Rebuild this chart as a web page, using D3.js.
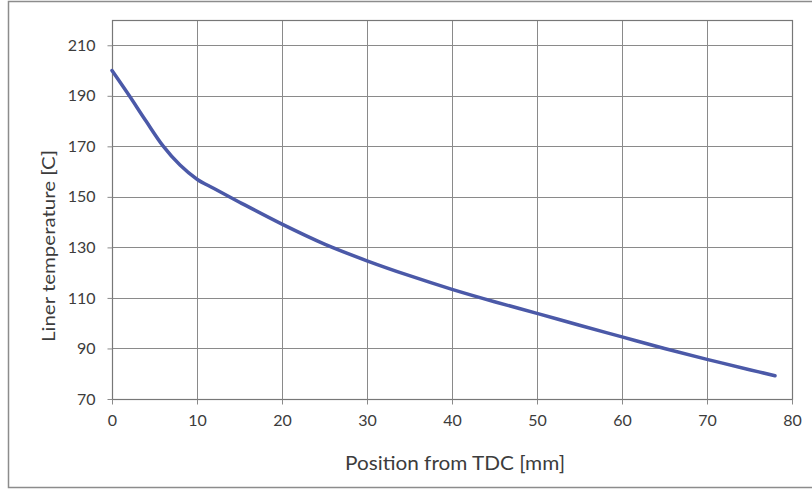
<!DOCTYPE html>
<html>
<head>
<meta charset="utf-8">
<script src="https://cdn.jsdelivr.net/npm/d3@7"></script>
<style>
  html, body { margin: 0; padding: 0; background: #fff; }
  svg { display: block; }
  text { font-family: Lato, "Open Sans", sans-serif; fill: #3c3c3c; }
</style>
</head>
<body>
<svg id="chart" width="812" height="490"></svg>
<script>
// Liner temperature along the stroke, measured from top dead centre
const positionMm = [0, 2, 4, 6, 8, 10, 12, 15, 20, 25, 30, 35, 40, 45, 50, 55, 60, 65, 70, 75, 78];
const linerTempC = [200, 190.2, 180, 170.2, 162.6, 157.0, 153.3, 147.9, 139.2, 131.3, 124.7, 118.8, 113.4, 108.5, 103.9, 99.2, 94.6, 90.0, 85.7, 81.6, 79.2];
const xTicks = [0, 10, 20, 30, 40, 50, 60, 70, 80];
const yTicks = [70, 90, 110, 130, 150, 170, 190, 210];
const xTitle = "Position from TDC [mm]";
const yTitle = "Liner temperature [C]";

const svg = d3.select("#chart");
const plot = { left: 112, right: 792, top: 20, bottom: 399 };

const x = d3.scaleLinear().domain([0, 80]).range([plot.left, plot.right]);
const y = d3.scaleLinear().domain([70, 220]).range([plot.bottom, plot.top]);

// outer chart frame
svg.append("rect")
  .attr("x", 8.5).attr("y", 1.5).attr("width", 820).attr("height", 486)
  .attr("fill", "none").attr("stroke", "#8c8c8c").attr("stroke-width", 1.5);

// gridlines
const grid = svg.append("g").attr("stroke", "#8a8a8a").attr("stroke-width", 1);
grid.selectAll("line.v").data(xTicks).join("line")
  .attr("x1", d => Math.round(x(d)) + 0.5).attr("x2", d => Math.round(x(d)) + 0.5)
  .attr("y1", plot.top).attr("y2", plot.bottom);
grid.selectAll("line.h").data(yTicks).join("line")
  .attr("x1", plot.left).attr("x2", plot.right)
  .attr("y1", d => Math.round(y(d)) + 0.5).attr("y2", d => Math.round(y(d)) + 0.5);

// plot area border
svg.append("rect")
  .attr("x", plot.left + 0.5).attr("y", plot.top + 0.5)
  .attr("width", plot.right - plot.left).attr("height", plot.bottom - plot.top)
  .attr("fill", "none").attr("stroke", "#777").attr("stroke-width", 1.2);

// axes
const xAxis = svg.append("g")
  .attr("transform", `translate(0,${plot.bottom + 0.5})`)
  .call(d3.axisBottom(x).tickValues(xTicks).tickSize(5).tickPadding(10).tickFormat(d3.format("d")));
const yAxis = svg.append("g")
  .attr("transform", `translate(${plot.left + 0.5},0)`)
  .call(d3.axisLeft(y).tickValues(yTicks).tickSize(5).tickPadding(12).tickFormat(d3.format("d")));
[xAxis, yAxis].forEach(g => {
  g.select(".domain").remove();
  g.selectAll(".tick line").attr("stroke", "#8a8a8a");
  g.selectAll(".tick text").style("font-size", "16px").attr("fill", "#3c3c3c");
});

// temperature curve
const line = d3.line()
  .x((d, i) => x(positionMm[i]))
  .y(d => y(d))
  .curve(d3.curveCatmullRom.alpha(0.5));
svg.append("path")
  .datum(linerTempC)
  .attr("d", line)
  .attr("fill", "none")
  .attr("stroke", "#4b59a8")
  .attr("stroke-width", 3.5)
  .attr("stroke-linecap", "round");

// axis titles
svg.append("text")
  .attr("x", 455).attr("y", 470)
  .attr("text-anchor", "middle").style("font-size", "18.5px")
  .attr("textLength", 220).attr("lengthAdjust", "spacingAndGlyphs")
  .text(xTitle);
svg.append("text")
  .attr("transform", `translate(55,246) rotate(-90)`)
  .attr("text-anchor", "middle").style("font-size", "17px")
  .attr("textLength", 192).attr("lengthAdjust", "spacingAndGlyphs")
  .text(yTitle);
</script>
</body>
</html>
